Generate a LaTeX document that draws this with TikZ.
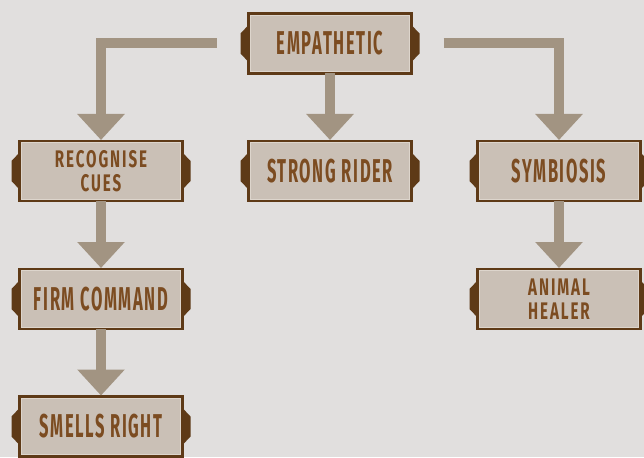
\documentclass[tikz,border=0pt]{standalone}
\usepackage{fontspec}
\newfontfamily\onefont[FakeStretch=0.5,LetterSpace=5]{Fira Sans}
\newfontfamily\twofont[FakeStretch=0.63,LetterSpace=8]{Fira Sans}
\usetikzlibrary{arrows.meta,calc}
\definecolor{bgc}{HTML}{E1DFDE}
\definecolor{boxfill}{HTML}{CAC0B6}
\definecolor{brdr}{HTML}{5E3A17}
\definecolor{hilite}{HTML}{DDD5CC}
\definecolor{txt}{HTML}{7C4C21}
\definecolor{arrc}{HTML}{A29482}
\tikzset{
  boxnode/.style={draw=brdr, line width=2.8pt,
    fill=boxfill, minimum width=163pt, minimum height=60pt, inner sep=0pt, outer sep=0pt,
    align=center, text=txt, font=\onefont\bfseries\fontsize{33}{33}\selectfont},
  twoline/.style={font=\twofont\bfseries\fontsize{24}{24}\selectfont},
  tabfill/.style={fill=brdr},
  hiline/.style={draw=hilite, line width=0.9pt},
  conn/.style={draw=arrc, line width=10pt, line join=miter,
    -{Triangle[width=46pt,length=26pt]}}
}
\newcommand\tabbox[5][]{%
  \node[boxnode,#1] (#2) at (#3,#4) {#5};
  \draw[hiline] ($(#2.north west)+(1.9,1.9)$) rectangle ($(#2.south east)+(-1.9,-1.9)$);
  \fill[tabfill] ($(#2.west)+(0.5,-19)$) -- ++(-8.5,9) -- ++(0,20) -- ++(8.5,9) -- cycle;
  \fill[tabfill] ($(#2.east)+(-0.5,-19)$) -- ++(8.5,9) -- ++(0,20) -- ++(-8.5,9) -- cycle;
}
\begin{document}
\begin{tikzpicture}[x=1pt,y=-1pt]
\useasboundingbox (0,0) rectangle (644,457);
\fill[bgc] (0,0) rectangle (644,457);
% nodes
\tabbox{emp}{330}{43.5}{EMPATHETIC}
\tabbox[twoline]{rec}{101}{171}{RECOGNISE\\CUES}
\tabbox{str}{330}{171}{STRONG RIDER}
\tabbox{sym}{559}{171}{SYMBIOSIS}
\tabbox{firm}{101}{299}{FIRM COMMAND}
\tabbox[twoline]{ani}{559}{299}{ANIMAL\\HEALER}
\tabbox{sme}{101}{426.5}{SMELLS RIGHT}
% connector start points
\coordinate (ls) at ($(emp.west)+(-32,0)$);
\coordinate (rs) at ($(emp.east)+(32,0)$);
% connectors
\draw[conn] (ls) -| ($(rec.north)+(0,-1)$);
\draw[conn] (rs) -| ($(sym.north)+(0,-1)$);
\draw[conn] (emp.south) -- ($(str.north)+(0,-1)$);
\draw[conn] (rec.south) -- ($(firm.north)+(0,-1)$);
\draw[conn] (firm.south) -- ($(sme.north)+(0,-1)$);
\draw[conn] (sym.south) -- ($(ani.north)+(0,-1)$);
\end{tikzpicture}
\end{document}
